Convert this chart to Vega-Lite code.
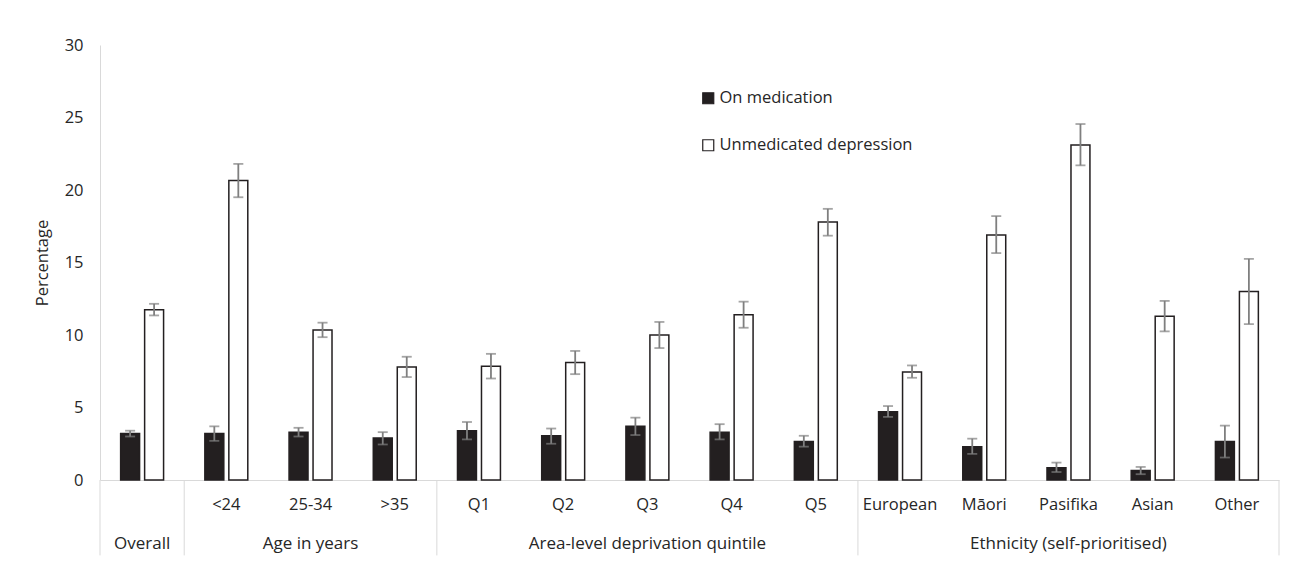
{
  "$schema": "https://vega.github.io/schema/vega-lite/v6.json",
  "width": 1179,
  "height": 435,
  "autosize": {"type": "none"},
  "padding": {"left": 100, "top": 45, "right": 15, "bottom": 90},
  "background": "white",
  "config": {
    "font": "Open Sans",
    "view": {"stroke": null},
    "legend": {"rowPadding": 30}
  },
  "datasets": {
    "bars": [
      {"cat": "Overall", "series": "On medication", "value": 3.2, "lo": 3.0, "hi": 3.4},
      {"cat": "Overall", "series": "Unmedicated depression", "value": 11.75, "lo": 11.35, "hi": 12.15},
      {"cat": "<24", "series": "On medication", "value": 3.2, "lo": 2.7, "hi": 3.7},
      {"cat": "<24", "series": "Unmedicated depression", "value": 20.65, "lo": 19.5, "hi": 21.8},
      {"cat": "25-34", "series": "On medication", "value": 3.3, "lo": 3.0, "hi": 3.6},
      {"cat": "25-34", "series": "Unmedicated depression", "value": 10.35, "lo": 9.85, "hi": 10.85},
      {"cat": ">35", "series": "On medication", "value": 2.9, "lo": 2.45, "hi": 3.3},
      {"cat": ">35", "series": "Unmedicated depression", "value": 7.8, "lo": 7.1, "hi": 8.5},
      {"cat": "Q1", "series": "On medication", "value": 3.4, "lo": 2.8, "hi": 4.0},
      {"cat": "Q1", "series": "Unmedicated depression", "value": 7.85, "lo": 7.0, "hi": 8.7},
      {"cat": "Q2", "series": "On medication", "value": 3.05, "lo": 2.5, "hi": 3.55},
      {"cat": "Q2", "series": "Unmedicated depression", "value": 8.1, "lo": 7.3, "hi": 8.9},
      {"cat": "Q3", "series": "On medication", "value": 3.7, "lo": 3.1, "hi": 4.3},
      {"cat": "Q3", "series": "Unmedicated depression", "value": 10.0, "lo": 9.1, "hi": 10.9},
      {"cat": "Q4", "series": "On medication", "value": 3.3, "lo": 2.8, "hi": 3.85},
      {"cat": "Q4", "series": "Unmedicated depression", "value": 11.4, "lo": 10.5, "hi": 12.3},
      {"cat": "Q5", "series": "On medication", "value": 2.65, "lo": 2.3, "hi": 3.05},
      {"cat": "Q5", "series": "Unmedicated depression", "value": 17.8, "lo": 16.85, "hi": 18.7},
      {"cat": "European", "series": "On medication", "value": 4.7, "lo": 4.35, "hi": 5.1},
      {"cat": "European", "series": "Unmedicated depression", "value": 7.45, "lo": 7.05, "hi": 7.9},
      {"cat": "Māori", "series": "On medication", "value": 2.3, "lo": 1.8, "hi": 2.85},
      {"cat": "Māori", "series": "Unmedicated depression", "value": 16.9, "lo": 15.65, "hi": 18.2},
      {"cat": "Pasifika", "series": "On medication", "value": 0.85, "lo": 0.55, "hi": 1.2},
      {"cat": "Pasifika", "series": "Unmedicated depression", "value": 23.1, "lo": 21.7, "hi": 24.55},
      {"cat": "Asian", "series": "On medication", "value": 0.65, "lo": 0.4, "hi": 0.9},
      {"cat": "Asian", "series": "Unmedicated depression", "value": 11.3, "lo": 10.25, "hi": 12.35},
      {"cat": "Other", "series": "On medication", "value": 2.65, "lo": 1.55, "hi": 3.75},
      {"cat": "Other", "series": "Unmedicated depression", "value": 13.0, "lo": 10.75, "hi": 15.25}
    ],
    "groups": [
      {"cat": "Overall", "group": "Overall"},
      {"cat": "25-34", "group": "Age in years"},
      {"cat": "Q3", "group": "Area-level deprivation quintile"},
      {"cat": "Pasifika", "group": "Ethnicity (self-prioritised)"}
    ],
    "leftEdges": [
      {"cat": "Overall"}, {"cat": "<24"}, {"cat": "Q1"}, {"cat": "European"}
    ],
    "rightEdges": [
      {"cat": "Other"}
    ]
  },
  "layer": [
    {
      "data": {"name": "bars"},
      "mark": {"type": "bar", "stroke": "#231f20", "strokeWidth": 1.5},
      "encoding": {
        "x": {
          "field": "cat", "type": "nominal", "title": null,
          "scale": {
            "domain": ["Overall", "<24", "25-34", ">35", "Q1", "Q2", "Q3", "Q4", "Q5", "European", "Māori", "Pasifika", "Asian", "Other"],
            "paddingInner": 0, "paddingOuter": 0
          },
          "axis": {
            "labelAngle": 0, "labelFontSize": 16.5, "labelColor": "#262626",
            "ticks": false, "labelPadding": 16, "domainColor": "#d9d9d9",
            "grid": false,
            "labelExpr": "datum.value == 'Overall' ? '' : datum.value"
          }
        },
        "xOffset": {
          "field": "series", "type": "nominal",
          "scale": {"domain": ["On medication", "Unmedicated depression"], "paddingInner": 0.21, "paddingOuter": 0.86}
        },
        "y": {
          "field": "value", "type": "quantitative",
          "scale": {"domain": [0, 30], "nice": false},
          "axis": {
            "title": "Percentage", "titleFontSize": 16.5, "titleFontWeight": "normal",
            "titleColor": "#262626", "labelFontSize": 16.5, "labelColor": "#262626",
            "ticks": false, "labelPadding": 17, "domainColor": "#d9d9d9",
            "grid": false, "values": [0, 5, 10, 15, 20, 25, 30], "titlePadding": 14
          }
        },
        "fill": {
          "field": "series", "type": "nominal",
          "scale": {"domain": ["On medication", "Unmedicated depression"], "range": ["#231f20", "#ffffff"]},
          "legend": {
            "title": null, "orient": "none", "legendX": 600, "legendY": 45,
            "symbolType": "square", "symbolSize": 121, "symbolStrokeColor": "#231f20",
            "symbolStrokeWidth": 1.2, "labelFontSize": 16.5, "labelColor": "#262626",
            "labelOffset": 3, "labelLimit": 400
          }
        }
      }
    },
    {
      "data": {"name": "bars"},
      "mark": {"type": "rule", "color": "#7f7f7f", "strokeWidth": 1.8},
      "encoding": {
        "x": {"field": "cat", "type": "nominal"},
        "xOffset": {"field": "series", "type": "nominal"},
        "y": {"field": "lo", "type": "quantitative"},
        "y2": {"field": "hi"}
      }
    },
    {
      "data": {"name": "bars"},
      "mark": {"type": "tick", "color": "#7f7f7f", "size": 10, "thickness": 1.8},
      "encoding": {
        "x": {"field": "cat", "type": "nominal"},
        "xOffset": {"field": "series", "type": "nominal"},
        "y": {"field": "lo", "type": "quantitative"}
      }
    },
    {
      "data": {"name": "bars"},
      "mark": {"type": "tick", "color": "#7f7f7f", "size": 10, "thickness": 1.8},
      "encoding": {
        "x": {"field": "cat", "type": "nominal"},
        "xOffset": {"field": "series", "type": "nominal"},
        "y": {"field": "hi", "type": "quantitative"}
      }
    },
    {
      "data": {"name": "leftEdges"},
      "mark": {"type": "rule", "color": "#d9d9d9", "strokeWidth": 1},
      "encoding": {
        "x": {"field": "cat", "type": "nominal", "bandPosition": 0},
        "y": {"datum": 0, "type": "quantitative"},
        "y2": {"datum": -5.2}
      }
    },
    {
      "data": {"name": "rightEdges"},
      "mark": {"type": "rule", "color": "#d9d9d9", "strokeWidth": 1},
      "encoding": {
        "x": {"field": "cat", "type": "nominal", "bandPosition": 1},
        "y": {"datum": 0, "type": "quantitative"},
        "y2": {"datum": -5.2}
      }
    },
    {
      "data": {"name": "groups"},
      "mark": {"type": "text", "fontSize": 17, "color": "#262626", "baseline": "middle", "dy": 64},
      "encoding": {
        "x": {"field": "cat", "type": "nominal"},
        "y": {"datum": 0, "type": "quantitative"},
        "text": {"field": "group"}
      }
    }
  ]
}
